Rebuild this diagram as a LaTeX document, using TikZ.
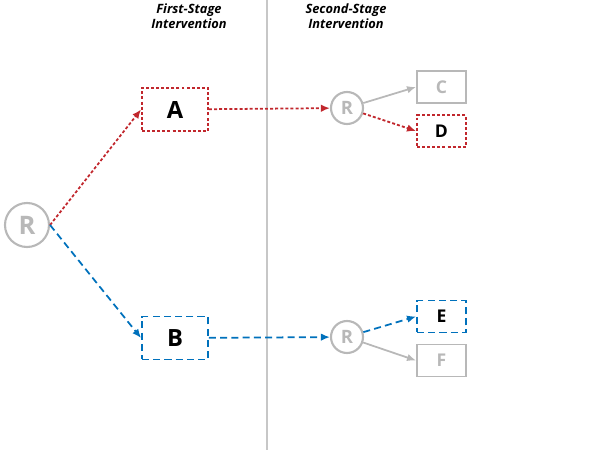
\documentclass[tikz,border=0pt]{standalone}
\usepackage{fontspec}
\setmainfont{Open Sans}
\usepackage{tikz}
\usetikzlibrary{arrows.meta}

\definecolor{redline}{HTML}{C1272D}
\definecolor{blueline}{HTML}{0071BC}
\definecolor{greyline}{HTML}{B8B8B8}

\begin{document}
\begin{tikzpicture}[
  x=0.02cm, y=-0.02cm,
  every node/.style={font=\bfseries},
  rnode/.style={circle, draw=greyline, line width=1.2pt, text=greyline, inner sep=0pt},
  bigbox/.style={rectangle, line width=1.1pt, minimum width=1.32cm, minimum height=0.86cm, inner sep=0pt, font=\bfseries\fontsize{13.5}{15}\selectfont},
  smallbox/.style={rectangle, line width=1.1pt, minimum width=0.98cm, minimum height=0.64cm, inner sep=0pt, font=\bfseries\fontsize{10}{11}\selectfont},
  redpath/.style={draw=redline, dash pattern=on 1.7pt off 1.2pt},
  bluepath/.style={draw=blueline, dash pattern=on 4pt off 2.4pt},
  greypath/.style={draw=greyline, text=greyline},
  link/.style={->, line width=1pt},
  head/.style={align=center, font=\bfseries\itshape\fontsize{7.3}{8.6}\selectfont},
  >={Latex[length=1.8mm,width=1.5mm]}
]
\useasboundingbox (0,0) rectangle (600,450);
\draw[draw=black!22, line width=0.6pt] (267,0) -- (267,450);

% Nodes
\node[head] (first) at (189,16) {First-Stage\\Intervention};
\node[head] (second) at (346,16) {Second-Stage\\Intervention};

\node[rnode, minimum size=0.88cm, font=\bfseries\fontsize{14.5}{16}\selectfont] (root) at (27,225) {R};
\node[bigbox, redpath] (a) at (175,109.5) {A};
\node[bigbox, bluepath] (b) at (175,338) {B};

\node[rnode, minimum size=0.64cm, font=\bfseries\fontsize{10.5}{12}\selectfont] (ra) at (347,108) {R};
\node[rnode, minimum size=0.64cm, font=\bfseries\fontsize{10.5}{12}\selectfont] (rb) at (347,337) {R};

\node[smallbox, greypath, draw] (c) at (441.5,87) {C};
\node[smallbox, redpath] (d) at (441.5,131) {D};
\node[smallbox, bluepath] (e) at (441.5,316.5) {E};
\node[smallbox, greypath, draw] (f) at (441.5,360.5) {F};

% Arrows
\draw[link, redpath] (root.east) -- (a.west);
\draw[link, bluepath] (root.east) -- (b.west);
\draw[link, redpath] (a) -- (ra);
\draw[link, bluepath] (b) -- (rb);
\draw[link, greyline] (ra) -- (c.west);
\draw[link, redpath] (ra) -- (d.west);
\draw[link, bluepath] (rb) -- (e.west);
\draw[link, greyline] (rb) -- (f.west);

\end{tikzpicture}
\end{document}
